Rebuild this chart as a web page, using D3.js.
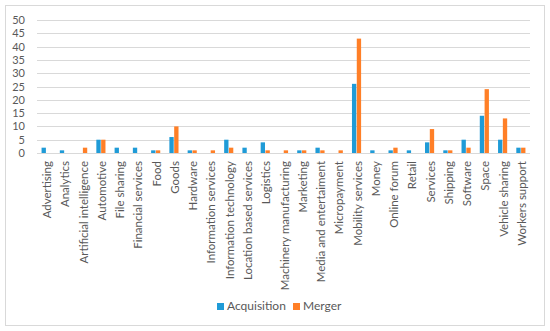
<!DOCTYPE html>
<html>
<head>
<meta charset="utf-8">
<script src="https://cdn.jsdelivr.net/npm/d3@7"></script>
<style>
  body { margin: 0; background: #fff; }
  svg text { font-family: Lato, "Open Sans", sans-serif; fill: #595959; }
</style>
</head>
<body>
<svg></svg>
<script>
const w = 550;
const h = 331;

// data
const categories = ['Advertising', 'Analytics', 'Artificial intelligence', 'Automotive', 'File sharing',
    'Financial services', 'Food', 'Goods', 'Hardware', 'Information services', 'Information technology',
    'Location based services', 'Logistics', 'Machinery manufacturing', 'Marketing', 'Media and entertaiment',
    'Micropayment', 'Mobility services', 'Money', 'Online forum', 'Retail', 'Services', 'Shipping',
    'Software', 'Space', 'Vehicle sharing', 'Workers support'];
const acquisition = [2, 1, 0, 5, 2, 2, 1, 6, 1, 0, 5, 2, 4, 0, 1, 2, 0, 26, 1, 1, 1, 4, 1, 5, 14, 5, 2];
const merger = [0, 0, 2, 5, 0, 0, 1, 10, 1, 1, 2, 0, 1, 1, 1, 1, 1, 43, 0, 2, 0, 9, 1, 2, 24, 13, 2];
const seriesNames = ['Acquisition', 'Merger'];
const colors = ['#1f9bd7', '#ff7f27'];
const yTicks = [0, 5, 10, 15, 20, 25, 30, 35, 40, 45, 50];

const pLeft = 37, pRight = 530, pTop = 20, pBottom = 153;

const svg = d3.select('svg')
    .attr('width', w)
    .attr('height', h)

// chart border
svg.append('rect')
    .attr('x', 5.5).attr('y', 5.5)
    .attr('width', w - 11).attr('height', h - 11)
    .attr('fill', 'none')
    .attr('stroke', '#d9d9d9')

// scales
const x = d3.scaleBand()
    .domain(categories)
    .range([pLeft, pRight])

const xInner = d3.scaleBand()
    .domain(seriesNames)
    .range([0, x.bandwidth() * 0.5])
    .paddingInner(0.1)

const y = d3.scaleLinear()
    .domain([0, 50])
    .range([pBottom, pTop])

// gridlines
svg.append('g')
    .selectAll('line')
    .data(yTicks)
    .enter()
    .append('line')
    .attr('x1', pLeft)
    .attr('x2', pRight)
    .attr('y1', d => Math.round(y(d)) + 0.5)
    .attr('y2', d => Math.round(y(d)) + 0.5)
    .attr('stroke', '#d9d9d9')

// y-axis labels
const yAxis = d3.axisLeft(y).tickValues(yTicks).tickSize(0).tickPadding(12)
const yG = svg.append('g')
    .attr('transform', 'translate(' + pLeft + ',0)')
    .call(yAxis)
yG.select('.domain').remove()
yG.selectAll('text').attr('font-size', 11).style('fill', '#595959')

// bars
const groups = svg.append('g')
    .selectAll('g')
    .data(categories)
    .enter()
    .append('g')
    .attr('transform', d => 'translate(' + (x(d) + x.bandwidth() * 0.25) + ',0)')

groups.selectAll('rect')
    .data((d, i) => [acquisition[i], merger[i]].map((v, j) => ({ key: seriesNames[j], value: v, c: colors[j] })))
    .enter()
    .append('rect')
    .attr('x', d => xInner(d.key))
    .attr('width', xInner.bandwidth())
    .attr('y', d => y(d.value))
    .attr('height', d => y(0) - y(d.value))
    .attr('fill', d => d.c)

// x labels
svg.append('g')
    .selectAll('text')
    .data(categories)
    .enter()
    .append('text')
    .attr('transform', d => 'translate(' + (x(d) + x.bandwidth() / 2 + 5) + ',' + (pBottom + 8) + ') rotate(-90)')
    .attr('text-anchor', 'end')
    .attr('font-size', 11.5)
    .text(d => d)

// legend
const legend = svg.append('g')
    .selectAll('g')
    .data(seriesNames)
    .enter()
    .append('g')
    .attr('transform', (d, i) => 'translate(' + (217 + i * 76) + ',303)')

legend.append('rect')
    .attr('width', 7)
    .attr('height', 7)
    .attr('fill', (d, i) => colors[i])

legend.append('text')
    .attr('x', 10)
    .attr('y', 7)
    .attr('font-size', 12)
    .text(d => d)
</script>
</body>
</html>
